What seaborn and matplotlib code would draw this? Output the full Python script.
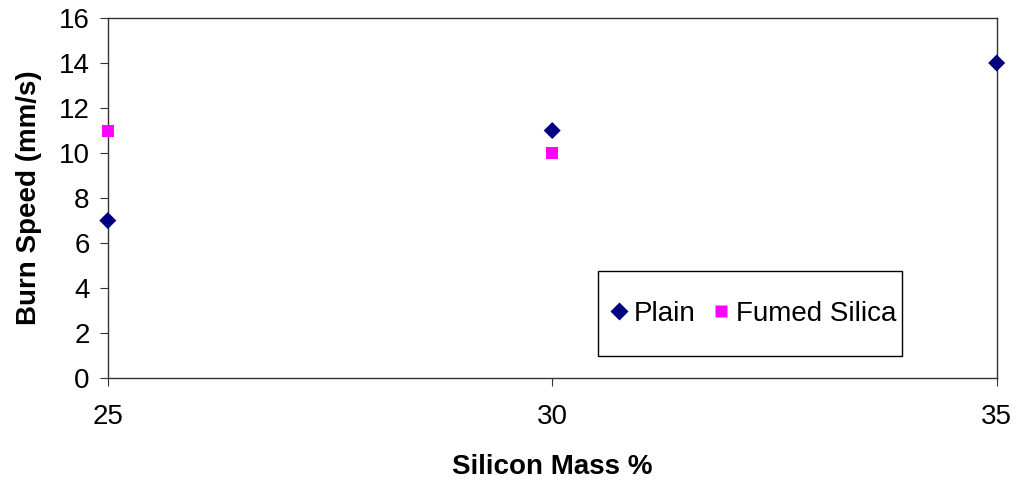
import pandas as pd
import seaborn as sns
import matplotlib.pyplot as plt
from matplotlib.patches import Rectangle

# Data
plain_mass = [25, 30, 35]
plain_speed = [7, 11, 14]
fumed_mass = [25, 30]
fumed_speed = [11, 10]
series_names = ["Plain", "Fumed Silica"]

df = pd.DataFrame({
    "Silicon Mass %": plain_mass + fumed_mass,
    "Burn Speed (mm/s)": plain_speed + fumed_speed,
    "Series": [series_names[0]] * len(plain_mass) + [series_names[1]] * len(fumed_mass),
})

sns.set_style("ticks", {"text.color": "black", "axes.labelcolor": "black",
                        "xtick.color": "black", "ytick.color": "black"})
plt.rcParams['font.family'] = ['Liberation Sans', 'DejaVu Sans']

fig, ax = plt.subplots(figsize=(10.17, 4.86), dpi=100)
fig.subplots_adjust(left=0.106, right=0.98, top=0.963, bottom=0.222)

sns.scatterplot(data=df, x="Silicon Mass %", y="Burn Speed (mm/s)",
                hue="Series", style="Series",
                palette={"Plain": "#000080", "Fumed Silica": "#FF00FF"},
                markers={"Plain": "D", "Fumed Silica": "s"},
                s=75, edgecolor="none", ax=ax, clip_on=False, zorder=3)

ax.set_xlim(25, 35)
ax.set_ylim(0, 16)
ax.set_xticks([25, 30, 35])
ax.set_yticks(range(0, 17, 2))

for side in ["top", "right", "bottom", "left"]:
    ax.spines[side].set_visible(True)
    ax.spines[side].set_color("#333333")
    ax.spines[side].set_linewidth(1.0)

ax.tick_params(axis="x", direction="out", length=6, pad=13, labelsize=20,
               color="#333333", labelcolor="black")
ax.tick_params(axis="y", direction="out", length=6, pad=7, labelsize=20,
               color="#333333", labelcolor="black")

ax.set_xlabel("Silicon Mass %", fontsize=20, fontweight="bold", labelpad=17, color="black")
ax.set_ylabel("Burn Speed (mm/s)", fontsize=20, fontweight="bold", labelpad=12, color="black")

# Legend box drawn separately so it can be wider than tall like the original
ax.add_patch(Rectangle((0.552, 0.061), 0.342, 0.236, transform=ax.transAxes,
                       facecolor="white", edgecolor="black", linewidth=1.0, zorder=4))
leg = ax.legend(loc="center", bbox_to_anchor=(0.723, 0.179), ncol=2, frameon=False,
                fontsize=20, handletextpad=0.05, columnspacing=0.4, markerscale=1.0,
                borderpad=0.0, handlelength=1.0, labelcolor="black")
leg.set_zorder(5)

plt.savefig("out.png", dpi=100)
